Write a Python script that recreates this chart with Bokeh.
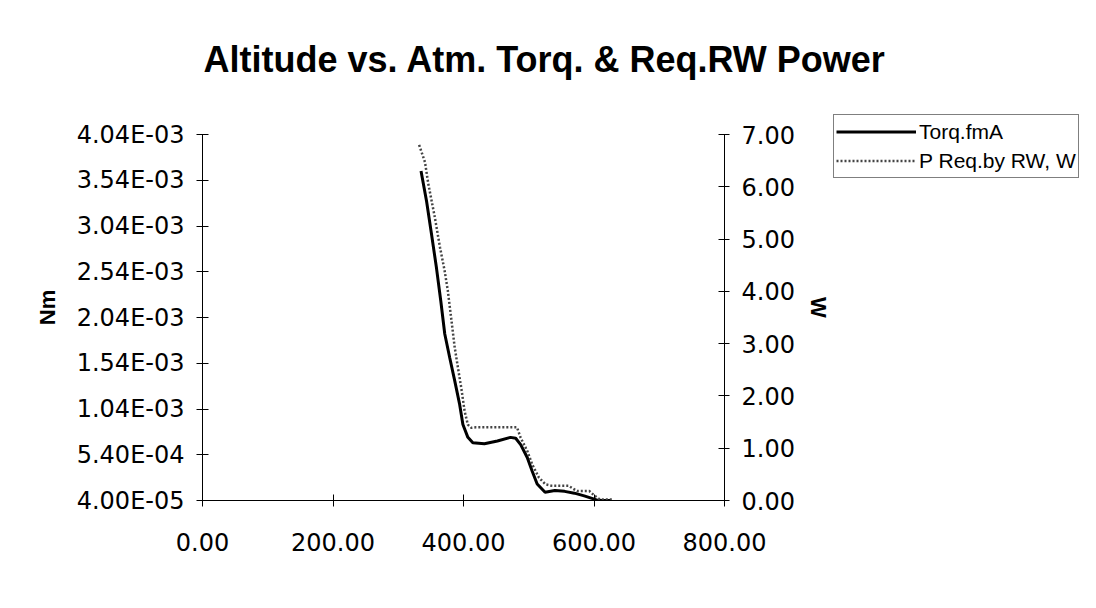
from bokeh.plotting import figure
from bokeh.models import (Range1d, LinearAxis, FixedTicker, Legend, LegendItem,
                          PrintfTickFormatter)
from bokeh.layouts import column, row
from bokeh.embed import file_html
from bokeh.resources import INLINE

# ---- data ----
alt_torq = [334.9, 343.4, 351.0, 358.6, 365.2, 371.3, 378.9, 386.5, 394.1, 399.1,
            406.7, 414.3, 432.0, 452.0, 472.0, 480.0, 487.6, 497.7, 505.3, 512.9,
            525.0, 540.0, 555.0, 570.0, 585.0, 598.0, 606.0, 625.0]
torq = [3.64e-3, 3.31e-3, 2.95e-3, 2.58e-3, 2.22e-3, 1.86e-3, 1.60e-3, 1.35e-3, 1.09e-3, 8.7e-4,
        7.3e-4, 6.7e-4, 6.6e-4, 6.9e-4, 7.3e-4, 7.2e-4, 6.5e-4, 5.1e-4, 3.6e-4, 2.2e-4,
        1.3e-4, 1.5e-4, 1.4e-4, 1.2e-4, 9.0e-5, 6.0e-5, 4.0e-5, 4.0e-5]

alt_pow = [332.0, 341.0, 346.0, 356.0, 364.0, 371.0, 376.0, 381.0, 386.5, 391.5,
           396.5, 401.7, 406.7, 412.0, 419.0, 482.0, 487.6, 497.7, 505.3, 515.5,
           525.5, 536.0, 561.0, 574.0, 593.0, 600.0, 609.0, 630.0]
power = [6.80, 6.47, 6.06, 5.42, 4.84, 4.40, 4.01, 3.50, 2.93, 2.54,
         2.16, 1.71, 1.45, 1.39, 1.40, 1.40, 1.20, 0.95, 0.69, 0.44,
         0.31, 0.28, 0.28, 0.18, 0.18, 0.10, 0.02, 0.02]

x_ticks = [0, 200, 400, 600, 800]
left_ticks = [4.0e-5, 5.4e-4, 1.04e-3, 1.54e-3, 2.04e-3, 2.54e-3, 3.04e-3, 3.54e-3, 4.04e-3]
left_tick_labels = ["4.00E-05", "5.40E-04", "1.04E-03", "1.54E-03", "2.04E-03",
                    "2.54E-03", "3.04E-03", "3.54E-03", "4.04E-03"]
right_ticks = [0, 1, 2, 3, 4, 5, 6, 7]

title_text = "Altitude vs. Atm. Torq. & Req.RW Power"
series_names = ["Torq.fmA", "P Req.by RW, W"]

TICK_FONT = "DejaVu Sans"
TICK_SIZE = "24px"
TORQ_STYLE = dict(line_color="black", line_width=3)
POW_STYLE = dict(line_color="#444444", line_width=2.5, line_dash="2 2")

TOP_H = 114          # title strip height (legend top sits right below it)
MAIN_W = 833
TOTAL_W = 1080
TOTAL_H = 592
AXIS_TOP = 134       # where the top tick of both y axes sits
FRAME_BOTTOM = 500
# extra room above the top tick, as a fraction of the tick span
pad = (AXIS_TOP - TOP_H) / (FRAME_BOTTOM - AXIS_TOP)

y_lo, y_hi = left_ticks[0], left_ticks[-1]
w_lo, w_hi = right_ticks[0], right_ticks[-1]

# ---------- title strip ----------
pt = figure(width=TOTAL_W, height=TOP_H, output_backend="svg", toolbar_location=None,
            x_axis_location=None, y_axis_location=None,
            min_border_left=202, min_border_right=351, min_border_top=90,
            min_border_bottom=0)
pt.outline_line_color = None
pt.grid.visible = False
pt.background_fill_color = "white"
pt.border_fill_color = "white"
pt.title.text = title_text
pt.title.align = "left"
pt.title.offset = 1
pt.title.standoff = 22
pt.title.text_font = "Liberation Sans"
pt.title.text_font_style = "bold"
pt.title.text_font_size = "36px"
pt.title.text_color = "black"

# ---------- main chart ----------
p = figure(width=MAIN_W, height=TOTAL_H - TOP_H, output_backend="svg", toolbar_location=None,
           x_range=Range1d(0, 800),
           y_range=Range1d(y_lo, y_hi + pad * (y_hi - y_lo)),
           min_border_left=202, min_border_right=MAIN_W - 729, min_border_top=0,
           min_border_bottom=TOTAL_H - FRAME_BOTTOM)
p.background_fill_color = "white"
p.border_fill_color = "white"
p.outline_line_color = None
p.grid.visible = False

xa = p.xaxis[0]
xa.ticker = FixedTicker(ticks=x_ticks)
xa.formatter = PrintfTickFormatter(format="%.2f")
xa.major_tick_in = 6
xa.major_tick_out = 6
xa.minor_tick_line_color = None
xa.major_label_standoff = 26
xa.major_label_text_font = TICK_FONT
xa.major_label_text_font_size = TICK_SIZE
xa.major_label_text_color = "black"
xa.axis_line_color = "black"
xa.major_tick_line_color = "black"

ya = p.yaxis[0]
ya.ticker = FixedTicker(ticks=left_ticks)
ya.bounds = (y_lo, y_hi)
ya.major_label_overrides = {t: s for t, s in zip(left_ticks, left_tick_labels)}
ya.major_tick_in = 6
ya.major_tick_out = 6
ya.minor_tick_line_color = None
ya.major_label_standoff = 12
ya.major_label_text_font = TICK_FONT
ya.major_label_text_font_size = TICK_SIZE
ya.major_label_text_color = "black"
ya.axis_label = "Nm"
ya.axis_label_text_font = "Liberation Sans"
ya.axis_label_text_font_style = "bold"
ya.axis_label_text_font_size = "22px"
ya.axis_label_text_color = "black"
ya.axis_label_standoff = 14

p.extra_y_ranges = {"w": Range1d(w_lo, w_hi + pad * (w_hi - w_lo))}
ra = LinearAxis(y_range_name="w")
ra.ticker = FixedTicker(ticks=right_ticks)
ra.bounds = (w_lo, w_hi)
ra.formatter = PrintfTickFormatter(format="%.2f")
ra.major_tick_in = 6
ra.major_tick_out = 5
ra.minor_tick_line_color = None
ra.major_label_standoff = 12
ra.major_label_text_font = TICK_FONT
ra.major_label_text_font_size = TICK_SIZE
ra.major_label_text_color = "black"
ra.axis_label = "W"
ra.axis_label_text_font = "Liberation Sans"
ra.axis_label_text_font_style = "bold"
ra.axis_label_text_font_size = "22px"
ra.axis_label_text_color = "black"
ra.axis_label_standoff = 8
p.add_layout(ra, "right")

p.line(alt_torq, torq, **TORQ_STYLE)
p.line(alt_pow, power, y_range_name="w", **POW_STYLE)

# ---------- legend panel (series drawn out of its view, only the legend shows) ----------
pl = figure(width=TOTAL_W - MAIN_W, height=TOTAL_H - TOP_H, output_backend="svg",
            toolbar_location=None, x_axis_location=None, y_axis_location=None,
            min_border=0, x_range=Range1d(0, 1), y_range=Range1d(0, 1))
pl.outline_line_color = None
pl.grid.visible = False
pl.background_fill_color = "white"
pl.border_fill_color = "white"
l1 = pl.line(alt_torq, torq, **TORQ_STYLE)
l2 = pl.line(alt_pow, power, **POW_STYLE)
legend = Legend(items=[LegendItem(label=series_names[0], renderers=[l1]),
                       LegendItem(label=series_names[1], renderers=[l2])],
                location="top_left")
legend.padding = 2
legend.margin = 0
legend.spacing = 0
legend.glyph_width = 80
legend.glyph_height = 29
legend.label_height = 29
legend.label_standoff = 3
legend.label_text_font = "Liberation Sans"
legend.label_text_font_size = "21px"
legend.label_text_color = "black"
legend.border_line_color = "black"
legend.border_line_width = 1
legend.background_fill_alpha = 1
pl.add_layout(legend, "center")

layout = column(pt, row(p, pl, spacing=0), spacing=0)
open("out.html", "w").write(file_html(layout, INLINE))
